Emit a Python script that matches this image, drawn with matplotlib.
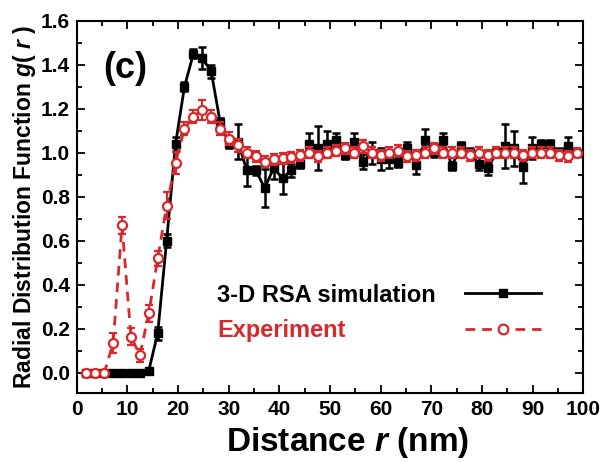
import matplotlib
matplotlib.use("Agg")
from matplotlib import pyplot as plt
from matplotlib.lines import Line2D
from matplotlib.ticker import MultipleLocator

plt.rcParams['font.family'] = ['Liberation Sans', 'DejaVu Sans']
plt.rcParams['font.weight'] = 'bold'
plt.rcParams['axes.labelweight'] = 'bold'
plt.rcParams['mathtext.fontset'] = 'custom'
plt.rcParams['mathtext.it'] = 'Liberation Sans:bold:italic'
plt.rcParams['mathtext.rm'] = 'Liberation Sans:bold'

# Abstand r (nm)
r = [1.9, 3.66, 5.42, 7.18, 8.94, 10.7, 12.46, 14.22, 15.98, 17.74,
     19.5, 21.26, 23.02, 24.78, 26.54, 28.3, 30.06, 31.82, 33.58, 35.34,
     37.1, 38.86, 40.62, 42.38, 44.14, 45.9, 47.66, 49.42, 51.18, 52.94,
     54.7, 56.46, 58.22, 59.98, 61.74, 63.5, 65.26, 67.02, 68.78, 70.54,
     72.3, 74.06, 75.82, 77.58, 79.34, 81.1, 82.86, 84.62, 86.38, 88.14,
     89.9, 91.66, 93.42, 95.18, 96.94, 98.7]

# 3-D RSA Simulation
sim = [0, 0, 0, 0, 0, 0, 0, 0.01, 0.18, 0.60,
       1.04, 1.30, 1.45, 1.43, 1.37, 1.14, 1.04, 1.05, 0.92, 0.92,
       0.84, 0.93, 0.885, 0.92, 0.95, 1.04, 1.02, 1.04, 1.06, 0.99,
       1.05, 0.96, 1.0, 0.97, 0.97, 0.955, 1.02, 0.945, 1.06, 1.005,
       1.06, 0.94, 1.03, 1.0, 0.95, 0.93, 1.0, 1.03, 1.02, 0.935,
       1.02, 1.04, 1.04, 1.0, 1.03, 1.0]
sim_err = [0, 0, 0, 0, 0, 0, 0, 0.005, 0.03, 0.03,
           0.03, 0.02, 0.02, 0.05, 0.03, 0.02, 0.02, 0.08, 0.07, 0.02,
           0.085, 0.05, 0.07, 0.03, 0.02, 0.05, 0.1, 0.06, 0.03, 0.02,
           0.04, 0.035, 0.05, 0.05, 0.04, 0.02, 0.03, 0.04, 0.05, 0.025,
           0.03, 0.02, 0.02, 0.02, 0.03, 0.03, 0.02, 0.1, 0.08, 0.07,
           0.05, 0.02, 0.02, 0.02, 0.04, 0.015]

# Experiment
exp = [0, 0, 0, 0.135, 0.67, 0.165, 0.08, 0.27, 0.52, 0.76,
       0.955, 1.11, 1.165, 1.195, 1.165, 1.11, 1.065, 1.035, 1.0, 0.985,
       0.96, 0.97, 0.975, 0.98, 0.99, 1.0, 0.985, 1.0, 1.01, 1.02,
       1.0, 1.03, 1.0, 0.99, 1.0, 1.01, 0.985, 0.99, 1.0, 1.02,
       1.0, 1.0, 1.0, 0.99, 1.0, 0.99, 1.0, 1.0, 1.0, 0.99,
       1.0, 1.0, 1.0, 0.99, 0.985, 1.0]
exp_err = [0, 0, 0, 0.045, 0.04, 0.04, 0.03, 0.04, 0.035, 0.06,
           0.05, 0.03, 0.03, 0.045, 0.03, 0.03, 0.03, 0.03, 0.025, 0.025,
           0.025, 0.025, 0.025, 0.025, 0.025, 0.025, 0.025, 0.025, 0.025, 0.025,
           0.025, 0.03, 0.025, 0.025, 0.025, 0.025, 0.025, 0.025, 0.025, 0.025,
           0.025, 0.025, 0.025, 0.025, 0.025, 0.025, 0.025, 0.025, 0.025, 0.025,
           0.025, 0.025, 0.025, 0.025, 0.025, 0.02]

labels = ['3-D RSA simulation', 'Experiment']
red = '#d8282b'
dash = (0, (3.5, 2.5))

fig = plt.figure(figsize=(6.14, 4.62), dpi=100)
ax = fig.add_axes([0.125, 0.150, 0.825, 0.805])

ax.errorbar(r, sim, yerr=sim_err, color='black', lw=2, marker='s', ms=5.5,
            capsize=3, elinewidth=1.8, capthick=1.8, zorder=2)
ax.errorbar(r, exp, yerr=exp_err, color=red, lw=2, ls=dash, marker='o', ms=6.5,
            mfc='white', mec=red, mew=1.6, capsize=3, elinewidth=1.5, capthick=1.5,
            zorder=3)

ax.set_xlim(0, 100)
ax.set_ylim(-0.09, 1.6)
ax.xaxis.set_major_locator(MultipleLocator(10))
ax.xaxis.set_minor_locator(MultipleLocator(5))
ax.yaxis.set_major_locator(MultipleLocator(0.2))
ax.yaxis.set_minor_locator(MultipleLocator(0.1))
ax.yaxis.set_major_formatter(plt.FuncFormatter(lambda v, p: f'{v:.1f}'))
ax.tick_params(which='both', direction='in', top=True, right=True, labelsize=15, width=1.3)
ax.tick_params(which='major', length=6, pad=5)
ax.tick_params(which='minor', length=3.5)
for s in ax.spines.values():
    s.set_linewidth(1.5)

ax.set_xlabel(r'Distance $\it{r}$ (nm)', fontsize=24)
ax.xaxis.set_label_coords(0.535, -0.088)
ax.set_ylabel(r'Radial Distribution Function $\it{g}$( $\it{r}$ )', fontsize=16.5, labelpad=2)

ax.text(0.052, 0.873, '(c)', transform=ax.transAxes, fontsize=26, va='center', ha='left')

# Legende: Text links, Linien rechts
handles = [Line2D([], [], color='black', lw=2, marker='s', ms=6),
           Line2D([], [], color=red, lw=2, ls=dash, marker='o', ms=7,
                  mfc='white', mec=red, mew=1.6)]
ax.legend(handles, ['', ''], loc='center', bbox_to_anchor=(0.841, 0.214), frameon=False,
          handlelength=3.2, handletextpad=0, borderpad=0, fontsize=17, labelspacing=0.55)
ax.text(0.277, 0.261, labels[0], transform=ax.transAxes, fontsize=17, va='center', color='black')
ax.text(0.277, 0.167, labels[1], transform=ax.transAxes, fontsize=17, va='center', color=red)

fig.savefig('out.png', dpi=100)
